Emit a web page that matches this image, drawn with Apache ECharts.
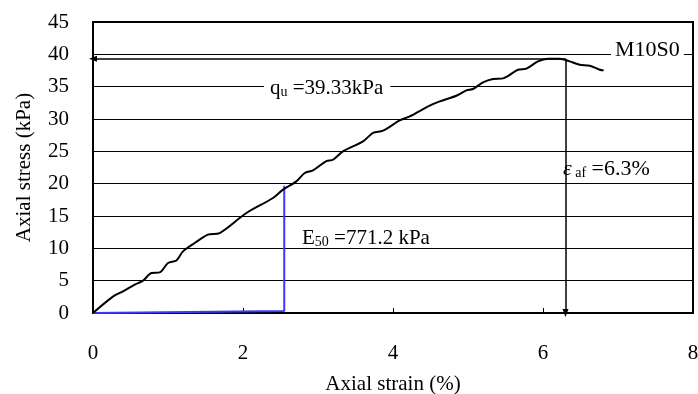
<!DOCTYPE html>
<html>
<head>
<meta charset="utf-8">
<script src="https://cdn.jsdelivr.net/npm/echarts@6/dist/echarts.min.js"></script>
<style>
  html, body { margin: 0; padding: 0; background: #fff; }
  #chart { width: 698px; height: 394px; }
</style>
</head>
<body>
<div id="chart"></div>
<script>
// Stress-strain curve of unconfined compression test, specimen M10S0
const strain = [0, 0.27, 0.40, 0.556, 0.667, 0.779, 0.889, 1.0, 1.112, 1.2, 1.356, 1.533, 1.689,
  2.045, 2.4, 2.533, 2.712, 2.823, 2.933, 3.112, 3.2, 3.333, 3.6, 3.733, 3.867, 4.089, 4.223,
  4.489, 4.623, 4.845, 4.979, 5.067, 5.2, 5.333, 5.467, 5.667, 5.779, 5.933, 6.067, 6.223,
  6.356, 6.489, 6.623, 6.756, 6.809];
const stress = [0, 2.57, 3.34, 4.38, 5.0, 6.19, 6.28, 7.73, 8.13, 9.53, 10.82, 12.11, 12.37,
  15.46, 17.78, 19.07, 20.35, 21.65, 22.05, 23.5, 23.7, 24.99, 26.54, 27.84, 28.19, 29.78, 30.4,
  32.06, 32.72, 33.6, 34.42, 34.64, 35.66, 36.19, 36.28, 37.62, 37.78, 38.91, 39.33, 39.33,
  38.91, 38.4, 38.24, 37.62, 37.52];

const xTicks = [0, 2, 4, 6, 8];
const yTicks = [0, 5, 10, 15, 20, 25, 30, 35, 40, 45];

const specimen = 'M10S0';
const qu = 39.33;          // unconfined compressive strength, kPa
const E50 = 771.2;         // secant modulus at half strength, kPa
const strainFail = 6.3;    // axial strain at failure, %
const baseRise = 0.3;      // small offset at foot of the E50 construction line

// strain at qu/2 follows from E50 = (qu/2) / eps50
const halfQu = qu / 2;
const eps50 = halfQu / E50 * 100;

const FONT = 'Liberation Serif';
const chart = echarts.init(document.getElementById('chart'), null, { renderer: 'canvas' });

const curve = strain.map((s, i) => [s, stress[i]]);

chart.setOption({
  animation: false,
  backgroundColor: '#fff',
  grid: {
    left: 93, top: 22, right: 5, bottom: 81,
    outerBoundsMode: 'none', containLabel: false,
    show: true, borderColor: '#000', borderWidth: 2, backgroundColor: 'transparent'
  },
  xAxis: {
    type: 'value',
    min: xTicks[0], max: xTicks[xTicks.length - 1], interval: xTicks[1] - xTicks[0],
    name: 'Axial strain (%)', nameLocation: 'middle', nameGap: 61,
    nameTextStyle: { fontFamily: FONT, fontSize: 21, color: '#000' },
    axisLine: { show: true, lineStyle: { color: '#000', width: 2 } },
    axisTick: { show: true, inside: true, length: 5, lineStyle: { color: '#000', width: 1 } },
    axisLabel: { fontFamily: FONT, fontSize: 21, color: '#000', margin: 30 },
    splitLine: { show: false }
  },
  yAxis: {
    type: 'value',
    min: yTicks[0], max: yTicks[yTicks.length - 1], interval: yTicks[1] - yTicks[0],
    name: 'Axial stress (kPa)', nameLocation: 'middle', nameGap: 58,
    nameTextStyle: { fontFamily: FONT, fontSize: 21, color: '#000' },
    axisLine: { show: true, lineStyle: { color: '#000', width: 2 } },
    axisTick: { show: true, inside: true, length: 5, lineStyle: { color: '#000', width: 1 } },
    axisLabel: { fontFamily: FONT, fontSize: 21, color: '#000', margin: 24 },
    splitLine: { show: true, lineStyle: { color: '#000', width: 1 } }
  },
  series: [
    {
      name: specimen,
      type: 'line',
      data: curve,
      showSymbol: false,
      smooth: 0.3,
      lineStyle: { color: '#000', width: 2 },
      z: 5
    },
    {
      name: 'E50',
      type: 'line',
      data: [[0, 0], [eps50, baseRise], [eps50, halfQu]],
      showSymbol: false,
      lineStyle: { color: '#3a3aff', width: 2 },
      z: 4
    },
    {
      name: 'failure',
      type: 'line',
      data: [],
      markLine: {
        silent: true,
        symbol: ['none', 'triangle'],
        symbolSize: [6, 8],
        label: { show: false },
        lineStyle: { color: '#000', width: 1.5, type: 'solid' },
        data: [
          [{ coord: [strainFail, qu] }, { coord: [0, qu] }],
          [{ coord: [strainFail, qu] }, { coord: [strainFail, 0] }]
        ]
      },
      z: 6
    }
  ]
});

// annotation texts
const sub = { fontFamily: FONT, fontSize: 14, color: '#000', verticalAlign: 'bottom' };
const main = { fontFamily: FONT, fontSize: 21, color: '#000' };
const main22 = { fontFamily: FONT, fontSize: 22, color: '#000' };

chart.setOption({
  graphic: [
    {
      type: 'text', left: 264, top: 78, z: 50,
      style: {
        text: '{m|q}{s|u}{m| =' + qu.toFixed(2) + 'kPa}',
        rich: { m: main, s: sub },
        backgroundColor: '#fff', padding: [0, 7, 0, 6]
      }
    },
    {
      type: 'text', left: 611, top: 39, z: 50,
      style: {
        text: specimen, fontFamily: FONT, fontSize: 22, fill: '#000',
        backgroundColor: '#fff', padding: [0, 4, 0, 4]
      }
    },
    {
      type: 'text', left: 302, top: 228, z: 50,
      style: {
        text: '{m|E}{s|50}{m| =' + E50.toFixed(1) + ' kPa}',
        rich: { m: main, s: sub }
      }
    },
    {
      type: 'text', left: 563, top: 158, z: 50,
      style: {
        text: '{e|\u03b5}{s| af}{m| =' + strainFail.toFixed(1) + '%}',
        rich: { m: main22, s: sub, e: { fontFamily: FONT, fontSize: 22, fontStyle: 'italic', color: '#000' } }
      }
    }
  ]
});
</script>
</body>
</html>
